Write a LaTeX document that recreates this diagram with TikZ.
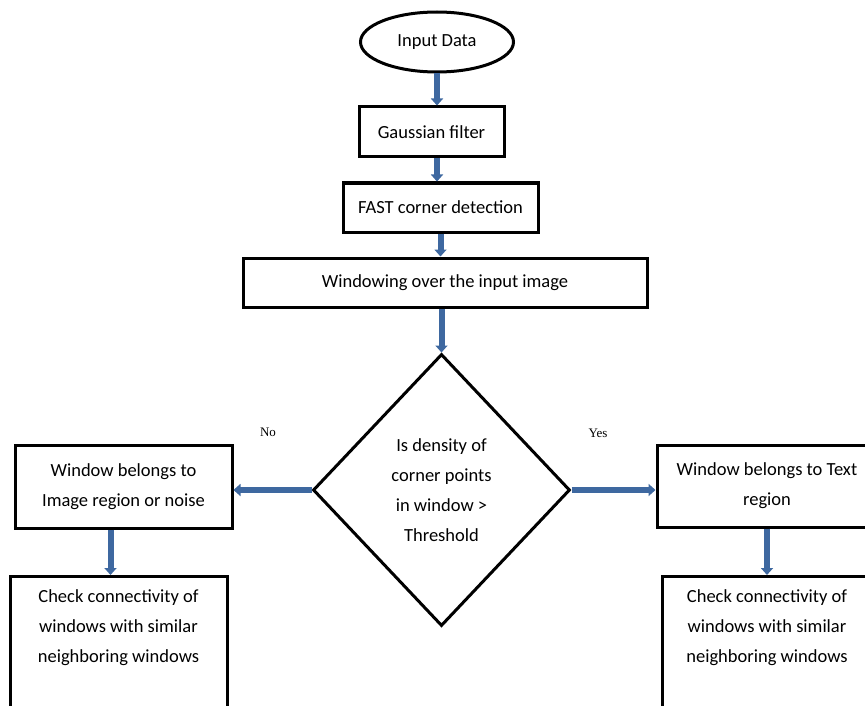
\documentclass[tikz,border=0pt]{standalone}
\usepackage{fontspec}
\setmainfont{Carlito}
\newfontfamily\labelfont{Liberation Serif}
\usetikzlibrary{arrows.meta,shapes.geometric}
\definecolor{flowblue}{RGB}{62,104,160}
\tikzset{
  box/.style={draw,line width=3pt,align=center,inner sep=0pt,font=\fontsize{18.5}{30}\selectfont},
  flow/.style={flowblue,line width=6pt,-{Triangle[width=12pt,length=7pt]}},
  yesno/.style={font=\labelfont\fontsize{13}{15}\selectfont}
}
\begin{document}
\begin{tikzpicture}[x=1pt,y=-1pt]
        \useasboundingbox (0,0) rectangle (865,706);
        \clip (0,0) rectangle (865,706);
        %输入
        \node[box,ellipse,minimum width=153pt,minimum height=60pt] (input) at (437,42) {Input Data};
        %处理步骤
        \node[box,minimum width=145pt,minimum height=50pt] (gauss) at (431.5,132) {Gaussian filter};
        \node[box,minimum width=195pt,minimum height=49pt] (fast) at (440.5,207.5) {FAST corner detection};
        \node[box,minimum width=404pt,minimum height=49pt] (window) at (445,282.5) {Windowing over the input image};
        %判断
        \node[box,diamond,minimum width=257pt,minimum height=272pt] (dec) at (441.5,490)
            {Is density of\\corner points\\in window >\\Threshold};
        %两个分支
        \node[box,minimum width=217pt,minimum height=83pt] (noise) at (123.5,486.5)
            {Window belongs to\\Image region or noise};
        \node[box,minimum width=220pt,minimum height=82pt] (textreg) at (767,486)
            {Window belongs to Text\\region};
        \node[box,anchor=north,minimum width=217pt,inner ysep=13pt] (checkl) at (118.5,575)
            {Check connectivity of\\windows with similar\\neighboring windows\\\mbox{}\\\mbox{}};
        \node[box,anchor=north,minimum width=210pt,inner ysep=13pt] (checkr) at (767,575)
            {Check connectivity of\\windows with similar\\neighboring windows\\\mbox{}\\\mbox{}};
        %标 No 和 Yes
        \node[yesno] (no) at (268,432) {No};
        \node[yesno] (yes) at (598,433) {Yes};
        %画箭头
        \draw[flow] (input.south) -- (input.south |- gauss.north);
        \draw[flow] (input.south |- gauss.south) -- (input.south |- fast.north);
        \draw[flow] (fast.south) -- (fast.south |- window.north);
        \draw[flow] (dec.north |- window.south) -- (dec.north);
        \draw[flow] (dec.west) -- (noise.east |- dec.west);
        \draw[flow] (dec.east) -- (textreg.west |- dec.east);
        \draw[flow] ([xshift=-13pt]noise.south) -- ([xshift=-13pt]noise.south |- checkl.north);
        \draw[flow] (textreg.south) -- (textreg.south |- checkr.north);
\end{tikzpicture}
\end{document}
